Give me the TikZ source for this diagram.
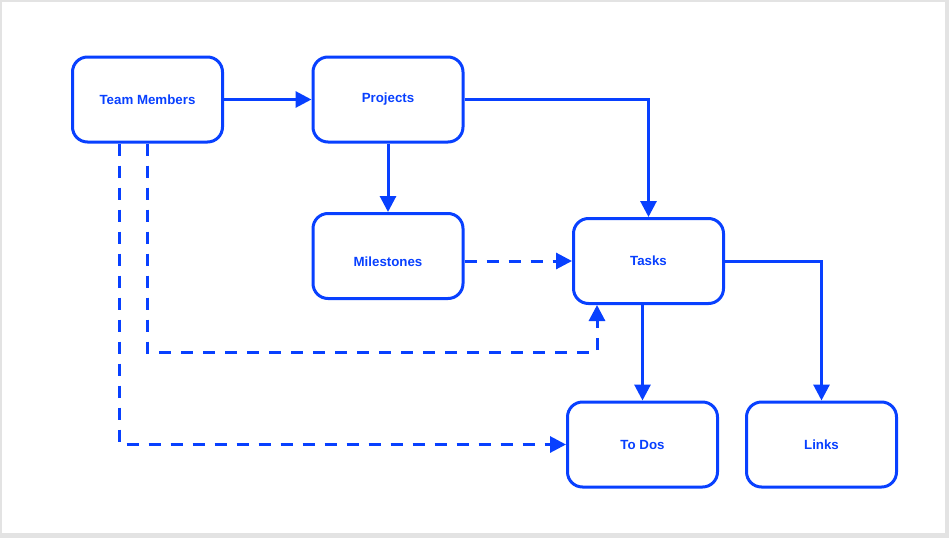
\documentclass[tikz,border=0pt]{standalone}
\usepackage{fontspec}
\setmainfont{Liberation Sans}
\usetikzlibrary{arrows.meta}
\definecolor{dblue}{RGB}{8,64,255}

\begin{document}
\begin{tikzpicture}[x=1pt,y=-1pt,>={Triangle[length=16pt,width=16pt]},
        box/.style={draw=dblue,line width=3pt,rounded corners=15pt,minimum width=150pt,minimum height=85pt,
            text=dblue,font=\fontsize{13.3}{16}\selectfont\bfseries},
        conn/.style={draw=dblue,line width=3pt},
        dsh/.style={conn,dash pattern=on 12pt off 10pt}]
    \fill[gray!22] (0,0) rectangle (949,538);
    \fill[white] (2,2) rectangle (945,533);
    % boxes
    \node[box] (team) at (147.5,99.5) {Team Members};
    \node[box] (proj) at (388,99.5) {Projects};
    \node[box,label={[text=dblue,font=\fontsize{13.3}{16}\selectfont\bfseries,yshift=-6pt]center:Milestones}] (mile) at (388,256) {};
    \node[box] (tasks) at (648.5,261) {Tasks};
    \node[box] (todo) at (642.5,444.5) {To Dos};
    \node[box] (links) at (821.5,444.5) {Links};
    % solid links
    \draw[conn,->] (team) -- (proj);
    \draw[conn,->] (proj) -- (mile);
    \draw[conn,->] (proj.east) -| (tasks.north);
    \draw[conn,->] (tasks.east) -| (links.north);
    \draw[conn,->] (todo.north |- tasks.south) -- (todo.north);
    % dashed links
    \draw[dsh,->] (mile.east |- tasks.west) -- (tasks.west);
    \coordinate (turn) at (597,352);
    \draw[dsh,->] (team.south) |- (turn) -- (turn |- tasks.south);
    \draw[dsh,->] ([xshift=-28pt]team.south) |- (todo.west);
\end{tikzpicture}
\end{document}
